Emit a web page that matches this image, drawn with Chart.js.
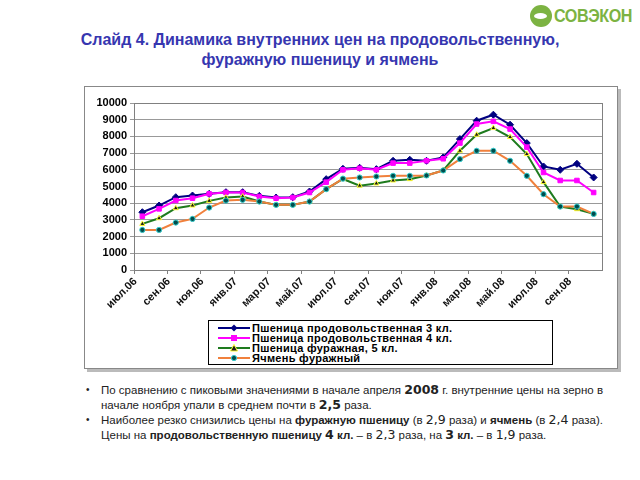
<!DOCTYPE html>
<html>
<head>
<meta charset="utf-8">
<script src="https://cdn.jsdelivr.net/npm/chart.js@4"></script>
<style>
  body { margin: 0; width: 640px; height: 480px; background: #fff; position: relative; overflow: hidden; font-family: "Liberation Sans", Arial, sans-serif; }
  #logo { position: absolute; left: 530px; top: 3px; height: 26px; display: flex; align-items: center; }
  #logo .ring { width: 22px; height: 22px; border-radius: 50%; background: #7cb342; position: relative; margin-right: 2px; }
  #logo .ring::after { content: ""; position: absolute; left: 4px; top: 8px; width: 13px; height: 6px; border-radius: 50%; background: #fff; }
  #logo .name { color: #7cb342; font-size: 19px; font-weight: bold; display: inline-block; transform: scaleX(0.85); transform-origin: left center; letter-spacing: -0.5px; }
  #title { position: absolute; left: 0; top: 30px; width: 640px; text-align: center; color: #3636b0; font-weight: bold; font-size: 16px; line-height: 20px; }
  #frame { position: absolute; left: 84px; top: 86px; width: 532px; height: 281px; border: 1px solid #888; box-shadow: 3px 3px 0 #bbb; background: #fff; }
  #wrap { position: absolute; left: 84px; top: 86px; width: 533px; height: 282px; }
  #legend { position: absolute; left: 208px; top: 320px; width: 345px; height: 45px; border: 1px solid #000; background: #fff; padding-top: 2px; box-sizing: border-box; }
  #legend div { height: 10px; line-height: 10px; font-size: 11px; font-weight: bold; letter-spacing: 0.3px; display: flex; align-items: center; }
  #legend svg { margin-left: 9px; margin-right: 2px; }
  #notes { position: absolute; left: 86px; top: 383px; width: 530px; font-size: 11.5px; color: #222; line-height: 14.5px; }
  #notes p { margin: 0 0 1px 0; padding-left: 15px; position: relative; }
  #notes p::before { content: "•"; position: absolute; left: 0; font-size: 10px; }
  #notes .n { font-family: "DejaVu Sans", Verdana, sans-serif; font-size: 12.5px; line-height: 0; }
  #notes b { font-weight: bold; }
</style>
</head>
<body>
<div id="logo"><div class="ring"></div><span class="name">СОВЭКОН</span></div>
<div id="title">Слайд 4. Динамика внутренних цен на продовольственную,<br>фуражную пшеницу и ячмень</div>
<div id="frame"></div>
<div id="wrap"><canvas id="chart" width="533" height="282"></canvas></div>
<div id="legend"></div>
<div id="notes">
  <p>По сравнению с пиковыми значениями в начале апреля <b class="n">2008</b> г. внутренние цены на зерно в начале ноября упали в среднем почти в <b class="n">2,5</b> раза.</p>
  <p>Наиболее резко снизились цены на <b>фуражную пшеницу</b> (в <span class="n">2,9</span> раза) и <b>ячмень</b> (в <span class="n">2,4</span> раза). Цены на <b>продовольственную пшеницу <span class="n">4</span> кл.</b> – в <span class="n">2,3</span> раза, на <b><span class="n">3</span> кл.</b> – в <span class="n">1,9</span> раза.</p>
</div>
<script>
const months = ['июл.06','авг.06','сен.06','окт.06','ноя.06','дек.06','янв.07','фев.07','мар.07','апр.07','май.07','июн.07','июл.07','авг.07','сен.07','окт.07','ноя.07','дек.07','янв.08','фев.08','мар.08','апр.08','май.08','июн.08','июл.08','авг.08','сен.08','окт.08'];
const seriesNames = ['Пшеница продовольственная 3 кл.', 'Пшеница продовольственная 4 кл.', 'Пшеница фуражная, 5 кл.', 'Ячмень фуражный'];
const wheat3 = [3460,3860,4360,4460,4560,4660,4660,4440,4340,4360,4700,5440,6060,6120,6040,6540,6600,6540,6740,7840,8940,9300,8700,7600,6200,6000,6360,5540];
const wheat4 = [3220,3660,4160,4300,4560,4640,4640,4400,4300,4340,4640,5260,6000,6090,6000,6400,6400,6540,6660,7600,8740,8900,8440,7360,5840,5360,5360,4640];
const wheat5 = [2760,3100,3700,3860,4140,4340,4400,4100,3900,3900,4100,4840,5450,5050,5180,5360,5440,5660,5960,7140,8100,8500,7960,6940,5260,3800,3640,3360];
const barley = [2400,2400,2840,3060,3740,4160,4200,4100,3900,3900,4100,4840,5470,5540,5600,5640,5640,5660,5960,6640,7140,7140,6540,5640,4540,3800,3800,3360];
const yTicks = [0,1000,2000,3000,4000,5000,6000,7000,8000,9000,10000];

// line colour, marker style, marker fill, marker edge, marker radius
const looks = [
  ['#000080', 'rectRot', '#000080', '#000080', 3.5],
  ['#ff00ff', 'rect', '#ff00ff', '#ff00ff', 3.2],
  ['#1e7b1e', 'triangle', '#1a1a1a', '#ffff33', 3],
  ['#f0803c', 'circle', '#004c4c', '#33cccc', 2.6]
];
const values = [wheat3, wheat4, wheat5, barley];

const datasets = values.map((v, i) => ({
  label: seriesNames[i],
  data: v,
  borderColor: looks[i][0],
  borderWidth: 2,
  pointStyle: looks[i][1],
  pointBackgroundColor: looks[i][2],
  pointBorderColor: looks[i][3],
  pointBorderWidth: 1,
  pointRadius: looks[i][4],
  tension: 0
})).reverse();

const frameBox = {
  id: 'frameBox',
  afterDraw(chart) {
    const a = chart.chartArea, c = chart.ctx;
    c.save();
    c.strokeStyle = '#808080';
    c.lineWidth = 1;
    c.strokeRect(Math.round(a.left) + 0.5, Math.round(a.top) + 0.5, Math.round(a.right - a.left), Math.round(a.bottom - a.top));
    c.restore();
  }
};

new Chart(document.getElementById('chart'), {
  type: 'line',
  data: { labels: months, datasets: datasets },
  options: {
    responsive: false,
    animation: false,
    layout: { padding: { top: 17, right: 15, bottom: 48, left: 0 } },
    plugins: { legend: { display: false }, tooltip: { enabled: false } },
    scales: {
      x: {
        offset: true,
        afterFit(s) { s.height = 50; },
        grid: {
          offset: true,
          drawOnChartArea: false,
          tickLength: 4,
          color: (ctx) => ctx.index % 2 === 0 ? '#808080' : 'rgba(0,0,0,0)'
        },
        border: { color: '#808080' },
        ticks: {
          autoSkip: false,
          maxRotation: 45,
          minRotation: 45,
          labelOffset: -7,
          padding: 1,
          color: '#111',
          font: { family: 'Liberation Sans', size: 11, weight: 'bold' },
          callback: (v, i) => i % 2 === 0 ? months[i] : ''
        }
      },
      y: {
        min: 0,
        max: 10000,
        afterFit(s) { s.width = 50; },
        afterBuildTicks(s) { s.ticks = yTicks.map(v => ({ value: v })); },
        grid: { color: '#999', tickLength: 4 },
        border: { color: '#808080' },
        ticks: {
          padding: 3,
          color: '#000',
          font: { family: 'Liberation Sans', size: 11, weight: 'bold' },
          callback: (v) => String(v)
        }
      }
    }
  },
  plugins: [frameBox]
});

// legend built from the same series
const legend = document.getElementById('legend');
seriesNames.forEach((name, i) => {
  const l = looks[i];
  let mark;
  if (l[1] === 'rectRot') mark = `<polygon points="16,1.5 19.5,5 16,8.5 12.5,5" fill="${l[2]}"/>`;
  else if (l[1] === 'rect') mark = `<rect x="13" y="2" width="6" height="6" fill="${l[2]}"/>`;
  else if (l[1] === 'triangle') mark = `<polygon points="16,1.5 19.5,8 12.5,8" fill="${l[2]}" stroke="${l[3]}" stroke-width="1"/>`;
  else mark = `<circle cx="16" cy="5" r="2.6" fill="${l[2]}" stroke="${l[3]}" stroke-width="1"/>`;
  const row = document.createElement('div');
  row.innerHTML = `<svg width="32" height="10"><line x1="0" y1="5" x2="32" y2="5" stroke="${l[0]}" stroke-width="2"/>${mark}</svg><span>${name}</span>`;
  legend.appendChild(row);
});
</script>
</body>
</html>
